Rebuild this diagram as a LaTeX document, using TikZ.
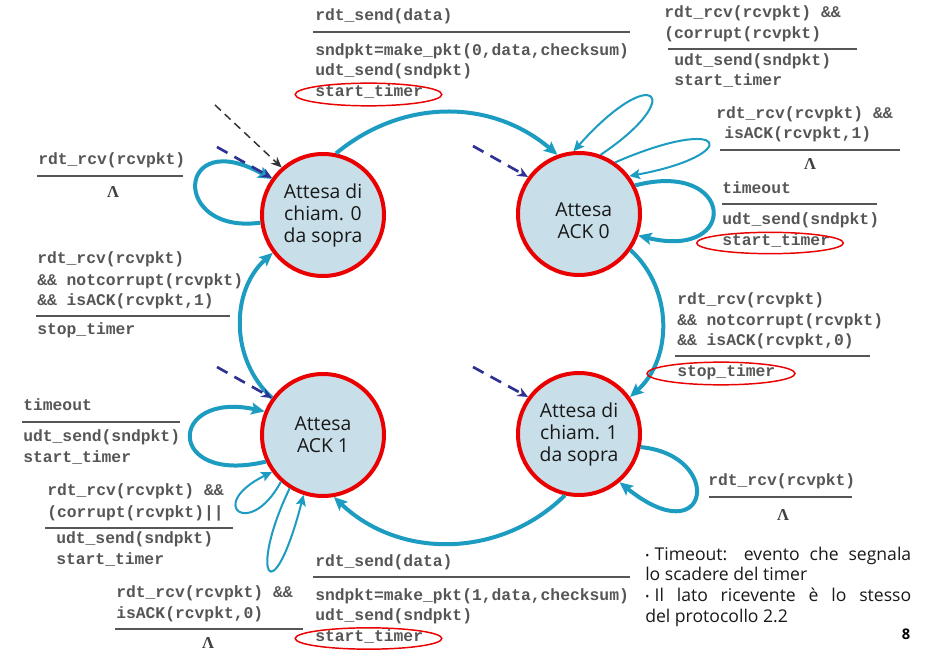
\documentclass[tikz,border=0pt]{standalone}
\usepackage{fontspec}
\setmainfont{Open Sans}
\newfontfamily\codefont{Liberation Mono}
\newfontfamily\lamfont{Liberation Serif}
\usetikzlibrary{arrows.meta}
\definecolor{flow}{RGB}{28,156,192}
\definecolor{statefill}{RGB}{200,223,233}
\definecolor{statered}{RGB}{234,0,0}
\definecolor{entryblue}{RGB}{46,49,146}
\definecolor{codegray}{RGB}{86,86,86}
\newcommand{\bul}{{\fontsize{8}{8}\selectfont\raisebox{0.2ex}{•}}}
\begin{document}
\begin{tikzpicture}[x=0.75pt,y=0.75pt,
  state/.style={circle, draw=statered, line width=3pt, fill=statefill,
    minimum size=91.5pt, inner sep=0pt, align=center,
    font=\fontsize{14.5}{16.5}\selectfont, text=black!90},
  code/.style={anchor=mid west, inner sep=0pt,
    font=\codefont\bfseries\fontsize{12.25}{15}\selectfont, text=codegray},
  lam/.style={inner sep=0pt, font=\lamfont\bfseries\fontsize{12.5}{12.5}\selectfont, text=black!75},
  note/.style={anchor=mid west, inner sep=0pt,
    font=\fontsize{13.2}{15}\selectfont, text=black!90},
  rule/.style={draw=codegray, line width=1.4pt},
  hl/.style={draw=statered, line width=1.1pt},
  trans/.style={draw=flow, line width=3pt, -{Stealth[length=10pt,width=9pt,inset=2pt]}},
  thinloop/.style={draw=flow, line width=1.5pt, -{Stealth[length=8pt,width=7.5pt,inset=1.5pt]}},
  init/.style={draw=black!80, dash pattern=on 6pt off 4pt, line width=1.1pt,
    -{Stealth[length=8pt,width=7pt]}},
  entry/.style={draw=entryblue, dash pattern=on 9pt off 6pt, line width=2pt,
    -{Stealth[length=8pt,width=7pt]}},
]
\fill[white] (0,0) rectangle (926,-652);
\useasboundingbox (0,0) rectangle (926,-652);

% states
\node[state] (S0) at (323,-215) {Attesa di\\chiam. 0\\da sopra};
\node[state] (S1) at (579,-214) {\rule{0pt}{20pt}\hspace*{7pt}Attesa\\\hspace*{7pt}ACK 0};
\node[state] (S2) at (323,-435) {Attesa\\ACK 1};
\node[state] (S3) at (579,-434) {Attesa di\\chiam. 1\\da sopra};

% transitions between states
\draw[trans] (S0.78) to[bend left=40] (S1.110);
\draw[trans] (S1.-35) to[bend left=48] (S3.36);
\draw[trans] (S3.-103) to[bend left=44] (S2.-80);
\draw[trans] (S2.144) to[bend left=48] (S0.-143);

% self loops
\draw[trans] (S0.187) .. controls +(-90.5,-12.3) and +(-95.4,53.9) .. (S0.145);
\draw[thinloop] (S1.70) .. controls +(87,58) and +(81,91) .. (S1.95);
\draw[thinloop] (S1.55) .. controls +(115,50) and +(114,21) .. (S1.37);
\draw[trans] (S1.27) .. controls +(100,26) and +(102,-25) .. (S1.-20);
\draw[trans] (S3.-12) .. controls +(84,-8) and +(91,-73) .. (S3.-50);
\draw[trans] (S2.205) .. controls +(-101,-24) and +(-97,21) .. (S2.158);
\draw[thinloop] (S2.228) .. controls +(-31,-58) and +(-67,-33) .. (S2.216);
\draw[thinloop] (S2.238) .. controls +(-42,-87) and +(-31,-120) .. (S2.252);

% initial and entry markers
\coordinate (start) at (215,-105);
\coordinate (e0) at (217,-147);
\coordinate (e1) at (473,-146);
\coordinate (e2) at (217,-367);
\coordinate (e3) at (473,-367);
\draw[init] (start) -- (S0.131);
\draw[entry] (e0) -- (S0.144);
\draw[entry] (e1) -- (S1.144);
\draw[entry] (e2) -- (S2.144);
\draw[entry] (e3) -- (S3.144);

% S0 -> S1 label
\node[code] (a1) at (315,-17) {rdt\_send(data)};
\draw[rule] (313,-32) -- (630,-32);
\node[code] (a2) at (315,-52) {sndpkt=make\_pkt(0,data,checksum)};
\node[code] (a3) at (315,-72) {udt\_send(sndpkt)};
\node[code] (a4) at (315,-93) {start\_timer};
\draw[hl] (368.5,-94.5) ellipse [x radius=55pt, y radius=8.5pt];

% S1 loops labels
\node[code] (b1) at (664,-14) {rdt\_rcv(rcvpkt) \&\&};
\node[code] (b2) at (664,-35) {(corrupt(rcvpkt)};
\draw[rule] (668,-49) -- (857,-49);
\node[code] (b3) at (674,-62) {udt\_send(sndpkt)};
\node[code] (b4) at (674,-82) {start\_timer};

\node[code] (c1) at (716,-115) {rdt\_rcv(rcvpkt) \&\&};
\node[code] (c2) at (724,-135) {isACK(rcvpkt,1)};
\draw[rule] (720,-150) -- (900,-150);
\node[lam] (c3) at (810,-164) {Λ};

\node[code] (d1) at (722,-190) {timeout};
\draw[rule] (722,-204) -- (877,-204);
\node[code] (d2) at (722,-221) {udt\_send(sndpkt)};
\node[code] (d3) at (722,-242) {start\_timer};
\draw[hl] (770,-243) ellipse [x radius=55pt, y radius=8pt];

% S1 -> S3 label
\node[code] (e1t) at (677,-301) {rdt\_rcv(rcvpkt)};
\node[code] (e2t) at (677,-322) {\&\& notcorrupt(rcvpkt)};
\node[code] (e3t) at (677,-342) {\&\& isACK(rcvpkt,0)};
\draw[rule] (675,-356) -- (870,-356);
\node[code] (e4t) at (677,-373) {stop\_timer};
\draw[hl] (721,-373.5) ellipse [x radius=55.5pt, y radius=8.5pt];

% S3 loop label
\node[code] (f1) at (708,-482) {rdt\_rcv(rcvpkt)};
\draw[rule] (709,-497) -- (852,-497);
\node[lam] (f2) at (783,-515) {Λ};

% S3 -> S2 label
\node[code] (g1) at (315,-563) {rdt\_send(data)};
\draw[rule] (313,-577) -- (630,-577);
\node[code] (g2) at (315,-597) {sndpkt=make\_pkt(1,data,checksum)};
\node[code] (g3) at (315,-617) {udt\_send(sndpkt)};
\node[code] (g4) at (315,-638) {start\_timer};
\draw[hl] (368.5,-638.5) ellipse [x radius=55pt, y radius=8pt];

% S2 loops labels
\node[code] (h1) at (116,-594) {rdt\_rcv(rcvpkt) \&\&};
\node[code] (h2) at (116,-615) {isACK(rcvpkt,0)};
\draw[rule] (115,-629) -- (303,-629);
\node[lam] (h3) at (208,-643) {Λ};

\node[code] (i1) at (23,-407) {timeout};
\draw[rule] (22,-422) -- (180,-422);
\node[code] (i2) at (23,-438) {udt\_send(sndpkt)};
\node[code] (i3) at (23,-459) {start\_timer};

\node[code] (j1) at (47,-492) {rdt\_rcv(rcvpkt) \&\&};
\node[code] (j2) at (47,-514) {(corrupt(rcvpkt)||};
\draw[rule] (45,-528) -- (233,-528);
\node[code] (j3) at (56,-540) {udt\_send(sndpkt)};
\node[code] (j4) at (56,-561) {start\_timer};

% S0 loop and S2 -> S0 labels
\node[code] (k1) at (38,-161) {rdt\_rcv(rcvpkt)};
\draw[rule] (37,-176) -- (183,-176);
\node[lam] (k2) at (113,-192) {Λ};

\node[code] (m1) at (37,-260) {rdt\_rcv(rcvpkt)};
\node[code] (m2) at (37,-282) {\&\& notcorrupt(rcvpkt)};
\node[code] (m3) at (37,-302) {\&\& isACK(rcvpkt,1)};
\draw[rule] (36,-316) -- (230,-316);
\node[code] (m4) at (37,-331) {stop\_timer};

% notes
\node[note] (n1) at (645,-557) {\makebox[199.5pt][s]{\bul\hspace{4pt}Timeout: evento che segnala}};
\node[note] (n2) at (645,-577) {lo scadere del timer};
\node[note] (n3) at (645,-598) {\makebox[199.5pt][s]{\bul\hspace{4pt}Il lato ricevente è lo stesso}};
\node[note] (n4) at (645,-619) {del protocollo 2.2};
\node[font=\bfseries\fontsize{11}{11}\selectfont, inner sep=0pt] (pg) at (906,-634) {8};
\end{tikzpicture}
\end{document}
